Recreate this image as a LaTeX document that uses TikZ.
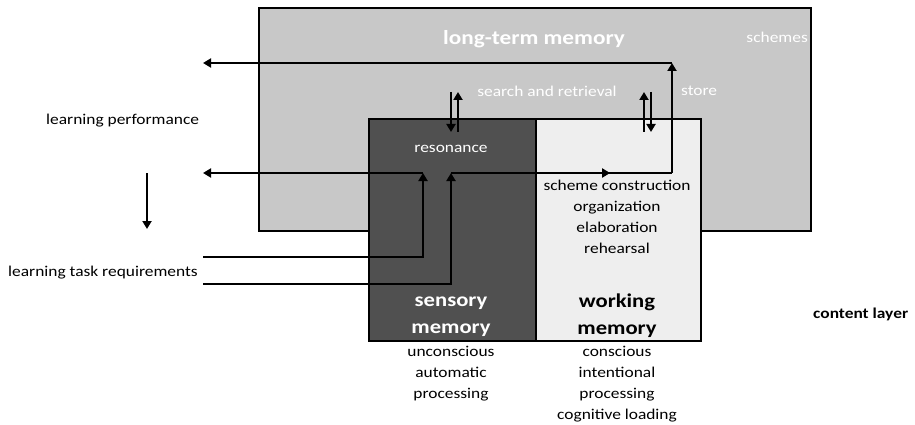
\documentclass[tikz,border=0pt]{standalone}
\usepackage{fontspec}
\setmainfont{Carlito}[FakeStretch=1.16]
\usetikzlibrary{arrows.meta,decorations.markings}
\definecolor{ltmgray}{HTML}{C8C8C8}
\definecolor{sensgray}{HTML}{505050}
\definecolor{wmgray}{HTML}{EEEEEE}
\tikzset{
  memorybox/.style={draw=black, line width=1.8pt, inner sep=0pt, anchor=north west},
  flow/.style={line width=2.6pt, -{Triangle[width=9pt,length=8pt]}},
  plainline/.style={line width=2.6pt},
  lbl/.style={font=\fontsize{15}{21}\selectfont, align=center, inner sep=0pt},
  wlbl/.style={lbl, text=white},
  biglbl/.style={font=\fontsize{20}{27}\selectfont\bfseries, align=center, inner sep=0pt},
  midarrow/.style={postaction={decorate},
    decoration={markings, mark=at position #1 with {\arrow{Triangle[width=9pt,length=8pt]}}}}
}
\begin{document}
\begin{tikzpicture}[x=1pt,y=-1pt]
\useasboundingbox (0,0) rectangle (915,425);

% memory stores
\node[memorybox, fill=ltmgray, minimum width=552pt, minimum height=223pt] (ltm) at (258,7) {};
\node[memorybox, fill=sensgray, minimum width=167pt, minimum height=222pt] (sm) at (368,118) {};
\node[memorybox, fill=wmgray, minimum width=165pt, minimum height=222pt] (wm) at (535,118) {};

% labels inside the stores
\node[biglbl, text=white] (ltmlbl) at (534,39) {long-term memory};
\node[wlbl, anchor=east] (schemes) at (808,37) {schemes};
\node[wlbl] (search) at (547,91) {search and retrieval};
\node[wlbl, anchor=west] (store) at (681,91) {store};
\node[wlbl] (reson) at (451,149) {resonance};
\node[lbl] (wmproc) at (617,217) {scheme construction\\organization\\elaboration\\rehearsal};
\node[biglbl, text=white, font=\fontsize{19.5}{27}\selectfont\bfseries] (smlbl) at (451,317) {sensory\\memory};
\node[biglbl, font=\fontsize{19.5}{27}\selectfont\bfseries] (wmlbl) at (617,316) {working\\memory};
\node[lbl, anchor=north] (smtxt) at (451,346) {unconscious\\automatic\\processing};
\node[lbl, anchor=north] (wmtxt) at (617,346) {conscious\\intentional\\processing\\cognitive loading};

% outside labels
\node[lbl, anchor=west] (perf) at (46,121) {learning performance};
\node[lbl, anchor=west] (task) at (8,273) {learning task requirements};
\node[lbl, anchor=west, font=\fontsize{15}{17}\selectfont\bfseries] (layer) at (813,314) {content layer};

% connector points
\coordinate (perfTop) at (203,63);
\coordinate (perfLow) at (203,173);
\coordinate (taskA) at (203,257);
\coordinate (taskB) at (203,284);
\coordinate (inA) at (423,173);
\coordinate (inB) at (451,173);
\coordinate (storeBend) at (672,173);
\coordinate (storeTop) at (672,63);
\coordinate (downTop) at (147,173);
\coordinate (downBot) at (147,229);

% input from task requirements into sensory memory
\draw[flow] (taskA) -| (inA);
\draw[flow] (taskB) -| (inB);
% direct response
\draw[flow] (inA) -- (perfLow);
% through working memory into long-term store and out to performance
\draw[plainline, midarrow=0.72] (inB) -- (storeBend);
\draw[flow] (storeBend) -- (storeTop);
\draw[flow] (storeTop) -- (perfTop);

% search and retrieval
\draw[flow] (451,92) -- (451,132);
\draw[flow] (458,132) -- (458,92);
% storing
\draw[flow] (644,132) -- (644,92);
\draw[flow] (651,92) -- (651,132);

% performance to task requirements
\draw[flow] (downTop) -- (downBot);
\end{tikzpicture}
\end{document}
